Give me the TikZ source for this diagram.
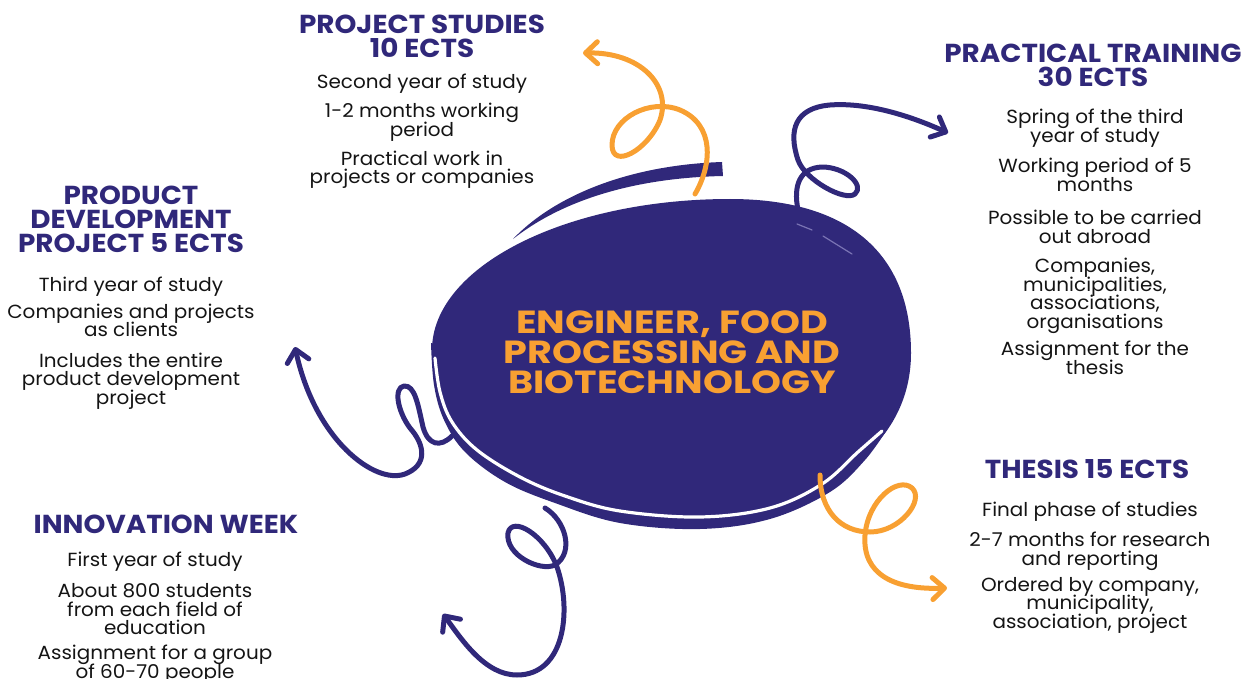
\documentclass[tikz,border=0pt]{standalone}
\usepackage{fontspec}
\setmainfont{Poppins}
\newfontfamily\bodyfont{Poppins}[FakeStretch=1.05]
\newfontfamily\headfont{Poppins}[FakeStretch=1.07]
\newfontfamily\corefont{Poppins}[FakeStretch=1.19]
\newcommand\tightlines{\lineskiplimit=-20pt\relax}
\usetikzlibrary{arrows.meta}
\definecolor{navy}{HTML}{30287A}
\definecolor{orng}{HTML}{F8A032}
\definecolor{ink}{HTML}{141414}
\definecolor{lav}{HTML}{7A74B4}
\begin{document}
\begin{tikzpicture}[x=1pt,y=-1pt,
  ttl/.style={text=navy, font=\headfont\fontsize{26}{24}\selectfont\tightlines\bfseries, align=center, inner sep=0pt, anchor=base},
  bdy/.style={text=ink, font=\bodyfont\fontsize{19}{18.5}\selectfont\tightlines, align=center, inner sep=0pt, anchor=base},
  curl/.style={line width=5pt, line cap=round, line join=round, -{Straight Barb[length=12pt,width=22pt,round]}},
]
\useasboundingbox (0,0) rectangle (1247,679);

% ---- central blob ----
\fill[navy] (432,350) .. controls (432,267) and (565,199) .. (730,199)
  .. controls (848,199) and (911,253) .. (911,353)
  .. controls (911,445) and (827,507) .. (700,507)
  .. controls (545,507) and (432,440) .. (432,350) -- cycle;
% bottom band
\fill[navy] plot[smooth, tension=0.6] coordinates {(431,343) (434,385) (444,420) (465,452) (505,482) (555,503) (620,523) (700,529) (770,519) (830,492) (865,460) (888,428)} -- (700,400) -- (600,380) -- cycle;
\draw[white, line width=3.2pt, line cap=round] plot[smooth, tension=0.6] coordinates {(435,358) (440,392) (452,422) (477,450) (520,477) (565,496) (620,511) (700,517) (770,508) (822,484) (858,452) (882,431)};
% top band
\fill[navy] (513,239) .. controls (555,195) and (630,165) .. (722,162) -- (723,176)
  .. controls (630,178) and (560,202) .. (513,239) -- cycle;
% small tick and light strokes
\draw[navy, line width=4pt, line cap=round] (862,265) -- (887,268);
\draw[lav, line width=1.2pt, line cap=round] (797,224) -- (812,230);
\draw[lav, line width=1.2pt, line cap=round] (823,236) -- (852,254);

\node[text=orng, font=\corefont\fontsize{32}{30}\selectfont\tightlines\bfseries, align=center, inner sep=0pt, anchor=base] (core) at (672,393) {ENGINEER, FOOD\\PROCESSING AND\\BIOTECHNOLOGY};

% ---- curly arrows ----
\coordinate (psS) at (695,194);  \coordinate (psE) at (583,53);
\coordinate (ptS) at (798,210);  \coordinate (ptE) at (948,133);
\coordinate (pdS) at (452,436);  \coordinate (pdE) at (295,347);
\coordinate (iwS) at (545,508);  \coordinate (iwE) at (443,614);
\coordinate (thS) at (820,475);  \coordinate (thE) at (947,588);

\draw[curl, orng] (psS) .. controls (712,165) and (715,125) .. (680,110)
  .. controls (650,98) and (612,118) .. (612,145)
  .. controls (612,170) and (648,150) .. (660,120)
  .. controls (672,85) and (640,52) .. (psE);
\draw[curl, navy] (ptS) .. controls (793,185) and (800,168) .. (822,167)
  .. controls (845,167) and (865,185) .. (855,194)
  .. controls (845,202) and (805,180) .. (798,160)
  .. controls (788,130) and (795,108) .. (830,105)
  .. controls (870,102) and (915,118) .. (ptE);
\draw[curl, navy] (pdS) .. controls (440,448) and (428,445) .. (423,427)
  .. controls (418,405) and (415,385) .. (404,386)
  .. controls (393,388) and (398,412) .. (410,428)
  .. controls (425,445) and (428,465) .. (405,474)
  .. controls (375,485) and (315,440) .. (pdE);
\draw[curl, navy] (iwS) .. controls (565,520) and (575,552) .. (555,565)
  .. controls (540,572) and (505,555) .. (508,533)
  .. controls (512,515) and (545,535) .. (557,567)
  .. controls (572,610) and (565,675) .. (517,675)
  .. controls (485,675) and (462,640) .. (iwE);
\draw[curl, orng] (thS) .. controls (820,510) and (840,532) .. (870,532)
  .. controls (900,532) and (925,500) .. (912,488)
  .. controls (898,476) and (868,500) .. (865,535)
  .. controls (862,575) and (895,590) .. (thE);

% ---- text blocks (anchor at baseline of last line) ----
\node[ttl] (pst) at (422,58) {PROJECT STUDIES\\10 ECTS};
\node[bdy] (psb) at (422,184) {Second year of study\\[10.5pt]1-2 months working\\period\\[11pt]Practical work in\\projects or companies};

\node[ttl] (ptt) at (1093,87) {PRACTICAL TRAINING\\30 ECTS};
\node[bdy] (ptb) at (1095,374) {Spring of the third\\year of study\\[12pt]Working period of 5\\months\\[15pt]Possible to be carried\\out abroad\\[11pt]Companies,\\municipalities,\\associations,\\organisations\\[9pt]Assignment for the\\thesis};

\node[ttl] (pdt) at (131,252) {PRODUCT\\DEVELOPMENT\\PROJECT 5 ECTS};
\node[bdy] (pdb) at (131,404) {Third year of study\\[8pt]Companies and projects\\as clients\\[12pt]Includes the entire\\product development\\project};

\node[ttl] (iwt) at (166,533) {INNOVATION WEEK};
\node[bdy] (iwb) at (155,678) {First year of study\\[12.5pt]About 800 students\\from each field of\\education\\[6.5pt]Assignment for a group\\of 60-70 people};

\node[ttl] (tht) at (1087,478) {THESIS 15 ECTS};
\node[bdy] (thb) at (1090,628) {Final phase of studies\\[11.5pt]2-7 months for research\\and reporting\\[7.5pt]Ordered by company,\\municipality,\\association, project};
\end{tikzpicture}
\end{document}
